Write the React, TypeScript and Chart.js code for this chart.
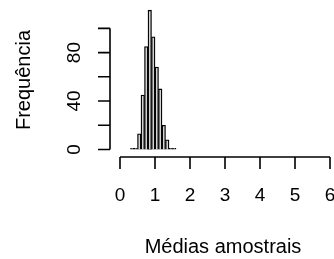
import React, { useEffect, useRef } from "react";
import { Chart, registerables } from "chart.js";

Chart.register(...registerables);

const binStarts = [0.3, 0.4, 0.5, 0.6, 0.7, 0.8, 0.9, 1.0, 1.1, 1.2, 1.3, 1.4, 1.5];
const counts = [1, 1, 13, 45, 85, 115, 93, 68, 50, 20, 8, 1, 1];
const binWidth = 0.1;
const xTicks = [0, 1, 2, 3, 4, 5, 6];
const yTicks = [0, 20, 40, 60, 80, 100];
const yTickLabels = [0, 40, 80];
const xTitle = "Médias amostrais";
const yTitle = "Frequência";

const FONT = "'Liberation Sans', Arial, sans-serif";

export default function App() {
  const ref = useRef<HTMLCanvasElement | null>(null);

  useEffect(() => {
    const canvas = ref.current;
    if (!canvas) return;
    const axesPlugin = {
      id: "rAxes",
      afterDraw(chart: any) {
        const ctx = chart.ctx;
        const xs = chart.scales.x;
        const ys = chart.scales.y;
        ctx.save();
        ctx.strokeStyle = "#000";
        ctx.fillStyle = "#000";
        ctx.lineWidth = 1.6;
        // y axis
        const ax = xs.getPixelForValue(0) - 10;
        const yTop = ys.getPixelForValue(yTicks[yTicks.length - 1]);
        const yBot = ys.getPixelForValue(yTicks[0]);
        ctx.beginPath();
        ctx.moveTo(ax, yTop);
        ctx.lineTo(ax, yBot);
        yTicks.forEach((t) => {
          const py = ys.getPixelForValue(t);
          ctx.moveTo(ax, py);
          ctx.lineTo(ax - 12, py);
        });
        ctx.stroke();
        ctx.font = `19px ${FONT}`;
        ctx.textAlign = "center";
        ctx.textBaseline = "alphabetic";
        yTickLabels.forEach((t) => {
          const py = ys.getPixelForValue(t);
          ctx.save();
          ctx.translate(80, py);
          ctx.rotate(-Math.PI / 2);
          ctx.fillText(String(t), 0, 0);
          ctx.restore();
        });
        // x axis
        const ay = ys.getPixelForValue(0) + 7.5;
        const xL = xs.getPixelForValue(xTicks[0]);
        const xR = xs.getPixelForValue(xTicks[xTicks.length - 1]);
        ctx.beginPath();
        ctx.moveTo(xL, ay);
        ctx.lineTo(xR, ay);
        xTicks.forEach((t) => {
          const px = xs.getPixelForValue(t);
          ctx.moveTo(px, ay);
          ctx.lineTo(px, ay + 12);
        });
        ctx.stroke();
        xTicks.forEach((t) => {
          ctx.fillText(String(t), xs.getPixelForValue(t), 201);
        });
        // titles
        ctx.font = `20px ${FONT}`;
        ctx.fillText(xTitle, 223, 253);
        ctx.save();
        ctx.translate(29.5, 80);
        ctx.rotate(-Math.PI / 2);
        ctx.fillText(yTitle, 0, 0);
        ctx.restore();
        ctx.restore();
      },
    };

    const chart = new Chart(canvas, {
      type: "bar",
      data: {
        datasets: [
          {
            data: binStarts.map((s, i) => ({ x: s + binWidth / 2, y: counts[i] })),
            backgroundColor: "#d3d3d3",
            borderColor: "#000",
            borderWidth: 1.3,
            barPercentage: 1,
            categoryPercentage: 1,
          },
        ],
      },
      options: {
        responsive: false,
        animation: false,
        layout: { padding: { left: 111.6, right: 0, top: 4.1, bottom: 103.9 } },
        plugins: { legend: { display: false }, tooltip: { enabled: false } },
        scales: {
          x: { type: "linear", min: -0.24, max: 6.114, display: false, offset: false },
          y: { type: "linear", min: -4.6, max: 120, display: false },
        },
      },
      plugins: [axesPlugin],
    });
    return () => chart.destroy();
  }, []);

  return (
    <div style={{ position: "fixed", left: 0, top: 0, width: 334, height: 259, background: "#fff" }}>
      <canvas ref={ref} width={334} height={259} style={{ width: 334, height: 259 }} />
    </div>
  );
}
